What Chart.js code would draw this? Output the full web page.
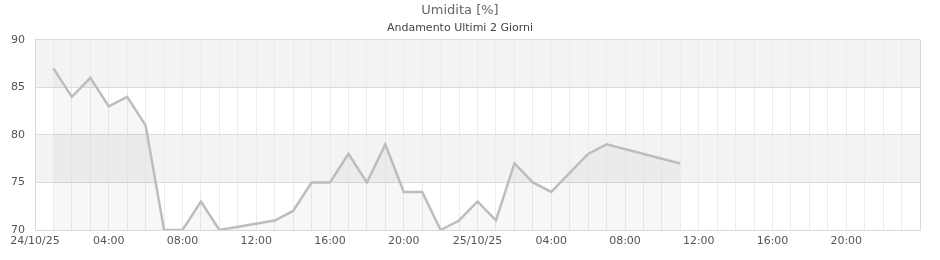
<!DOCTYPE html>
<html>
<head>
<meta charset="utf-8">
<script src="https://cdn.jsdelivr.net/npm/chart.js@4/dist/chart.umd.min.js"></script>
<style>
    html, body { margin: 0; padding: 0; background: #ffffff; }
    #wrap { width: 940px; height: 260px; }
</style>
</head>
<body>
<div id="wrap"><canvas id="chart"></canvas></div>
<script>
// hours counted from 24/10/25 00:00
const HOURS = [1, 2, 3, 4, 5, 6, 7, 8, 9, 10, 13, 14, 15, 16, 17, 18, 19, 20, 21, 22, 23, 24, 25, 26, 27, 28, 29, 30, 31, 35];
const HUMIDITY = [87, 84, 86, 83, 84, 81, 70, 70, 73, 70, 71, 72, 75, 75, 78, 75, 79, 74, 74, 70, 71, 73, 71, 77, 75, 74, 76, 78, 79, 77];
const DAY_LABELS = ["24/10/25", "25/10/25"];
const Y_MIN = 70;
const Y_MAX = 90;
const Y_STEP = 5;
const X_MAX = 48;

const FONT = "'DejaVu Sans', sans-serif";

// alternating horizontal bands behind the grid
const bandsPlugin = {
    id: "bands",
    beforeDraw(chart) {
        const { ctx, chartArea, scales } = chart;
        const y = scales.y;
        ctx.save();
        ctx.fillStyle = "#f3f3f3";
        for (let v = Y_MIN; v < Y_MAX; v += Y_STEP) {
            if (((v - Y_MIN) / Y_STEP) % 2 === 1) {
                const top = y.getPixelForValue(v + Y_STEP);
                const bottom = y.getPixelForValue(v);
                ctx.fillRect(chartArea.left, top, chartArea.right - chartArea.left, bottom - top);
            }
        }
        ctx.restore();
    },
};

const points = HOURS.map((h, i) => ({ x: h, y: HUMIDITY[i] }));

new Chart(document.getElementById("chart"), {
    type: "line",
    data: {
        datasets: [
            {
                label: "Umidita",
                data: points,
                borderColor: "#bdbdbd",
                borderWidth: 2.5,
                backgroundColor: "rgba(0, 0, 0, 0.03)",
                fill: "start",
                pointRadius: 0,
                tension: 0,
            },
        ],
    },
    options: {
        responsive: true,
        maintainAspectRatio: false,
        animation: false,
        layout: { padding: { left: 0, right: 20, top: 0, bottom: 0 } },
        scales: {
            x: {
                type: "linear",
                min: 0,
                max: X_MAX,
                grid: {
                    color: (c) => (c.tick && (c.tick.value === 0 || c.tick.value === X_MAX) ? "#d8d8d8" : "#ebebf8"),
                    lineWidth: 1,
                    drawTicks: false,
                },
                border: { display: true, color: "#d8d8d8" },
                ticks: {
                    stepSize: 1,
                    autoSkip: false,
                    maxRotation: 0,
                    padding: 5,
                    color: "#555555",
                    font: { size: 11, family: FONT },
                    callback: (v) => {
                        if (v % 4 !== 0 || v >= X_MAX) return "";
                        if (v % 24 === 0) return DAY_LABELS[v / 24];
                        const hh = String(v % 24).padStart(2, "0");
                        return `${hh}:00`;
                    },
                },
                afterFit: (scale) => { scale.height = 30; },
            },
            y: {
                min: Y_MIN,
                max: Y_MAX,
                grid: { color: "#dcdcdc", drawTicks: false },
                border: { display: true, color: "#d8d8d8" },
                ticks: {
                    stepSize: Y_STEP,
                    padding: 10,
                    color: "#555555",
                    font: { size: 11, family: FONT },
                },
                afterFit: (scale) => { scale.width = 35; },
            },
        },
        plugins: {
            legend: { display: false },
            tooltip: { enabled: false },
            title: {
                display: true,
                text: "Umidita [%]",
                color: "#666666",
                font: { size: 13, weight: "normal", family: FONT },
                padding: { top: 3, bottom: 2 },
            },
            subtitle: {
                display: true,
                text: "Andamento Ultimi 2 Giorni",
                color: "#444444",
                font: { size: 11, weight: "normal", family: FONT },
                padding: { top: 1, bottom: 5 },
            },
        },
    },
    plugins: [bandsPlugin],
});
</script>
</body>
</html>
